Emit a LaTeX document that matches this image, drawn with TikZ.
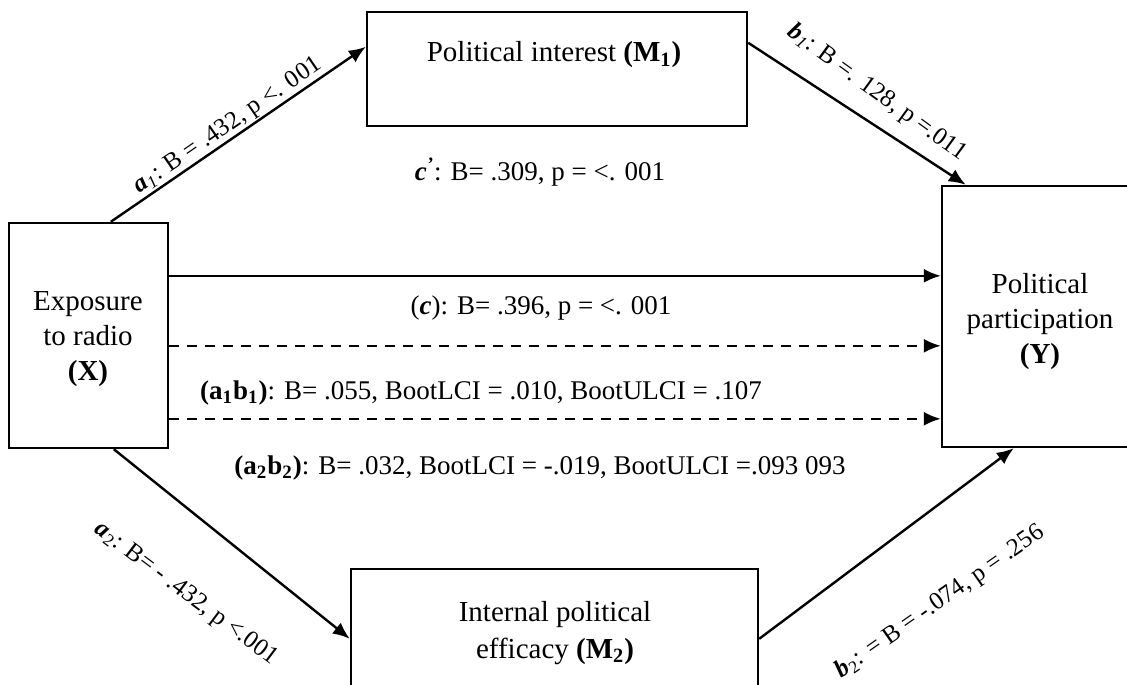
\documentclass[tikz,border=0pt]{standalone}
\usepackage{fontspec}
\setmainfont{Liberation Serif}
\usetikzlibrary{arrows.meta,calc,fit}
\begin{document}
\begin{tikzpicture}[x=0.5pt,y=-0.5pt,
  box/.style={draw, line width=1.2pt, inner sep=0pt},
  boxtext/.style={align=center, font=\fontsize{14.5}{17.5}\selectfont, inner sep=0pt},
  lbl/.style={font=\fontsize{13.5}{16}\selectfont, inner sep=0pt},
  slbl/.style={font=\fontsize{12.5}{15}\selectfont, inner sep=0pt},
  conn/.style={line width=1.2pt, -{Latex[length=8.5pt,width=7pt]}},
  dconn/.style={conn, dash pattern=on 5pt off 4pt}]
\useasboundingbox (0,0) rectangle (1127,684);

% boxes
\node[box, fit={(9,223)(168,448)}] (X) {};
\node[box, fit={(942,186)(1140,447)}] (Y) {};
\node[box, fit={(367,12)(747,126)}] (M1) {};
\node[box, fit={(351,569)(758,700)}] (M2) {};

% box texts
\node[boxtext] (Xt) at (88,339) {Exposure\\to radio\\\textbf{(X)}};
\node[boxtext] (Yt) at (1040,322) {Political\\participation\\\textbf{(Y)}};
\node[boxtext] (M1t) at (554,55) {Political interest \textbf{(M\textsubscript{1})}};
\node[boxtext, font=\fontsize{14.5}{18.5}\selectfont] (M2t) at (555,633) {Internal political\\efficacy \textbf{(M\textsubscript{2})}};

% paths
\draw[conn] ($(X.north west)+(103,0)$) -- ($(M1.north west)+(0,36)$);
\draw[conn] ($(M1.north east)+(0,32)$) -- ($(Y.north west)+(25,0)$);
\draw[conn] ($(X.north east)+(0,54)$) -- ($(Y.north west)+(0,91)$);
\draw[dconn] ($(X.north east)+(0,124)$) -- ($(Y.north west)+(0,161)$);
\draw[dconn] ($(X.north east)+(0,197)$) -- ($(Y.north west)+(0,234)$);
\draw[conn] ($(X.south west)+(106,0)$) -- ($(M2.north west)+(0,71)$);
\draw[conn] ($(M2.north east)+(0,71)$) -- ($(Y.south west)+(73,0)$);

% path labels
\node[slbl, rotate=34.5] (La1) at (228,126) {\textbf{\textit{a}}\textsubscript{\textit{1}}: B = .432, p <. 001};
\node[slbl, rotate=-36] (Lb1) at (877,93) {\textbf{\textit{b}}\textsubscript{\textit{1}}: B =. 128, p =.011};
\node[slbl, rotate=-37] (La2) at (186,594) {\textbf{\textit{a}}\textsubscript{2}: B= - .432, p <.001};
\node[slbl, rotate=35] (Lb2) at (940,602) {\textbf{\textit{b}}\textsubscript{2}: = B = -.074, p = .256};
\node[lbl] (Lc1) at (540,172) {\textbf{\textit{c}}\textsuperscript{\textbf{\textit{’}}}: B= .309, p = <. 001};
\node[lbl] (Lc) at (541,308) {(\textbf{\textit{c}}): B= .396, p = <. 001};
\node[lbl] (Lab1) at (481,393) {\textbf{(a\textsubscript{1}b\textsubscript{1})}: B= .055, BootLCI = .010, BootULCI = .107};
\node[lbl] (Lab2) at (540,468) {\textbf{(a\textsubscript{2}b\textsubscript{2})}: B= .032, BootLCI = -.019, BootULCI =.093 093};
\end{tikzpicture}
\end{document}
